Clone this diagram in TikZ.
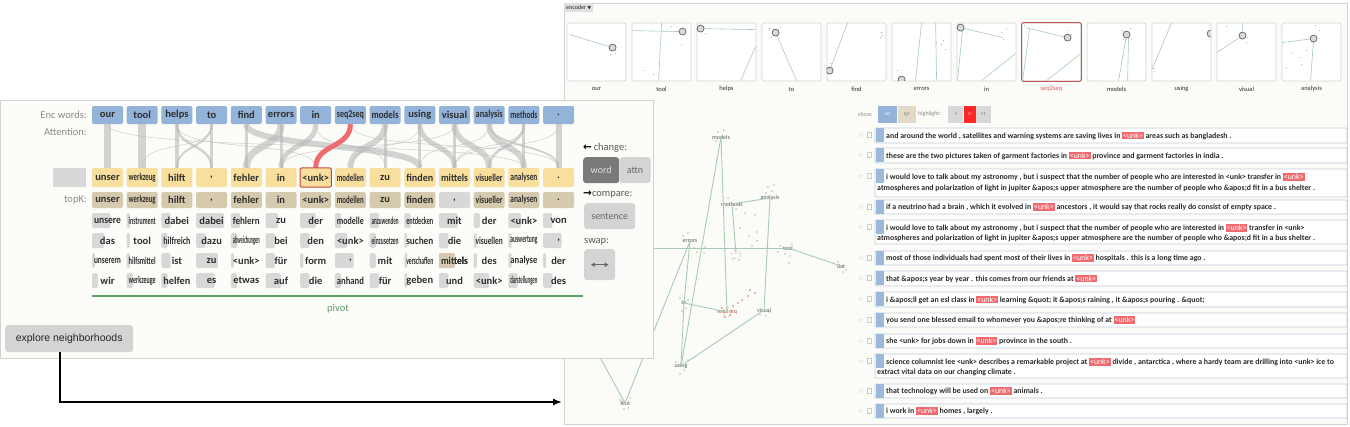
\documentclass[tikz,border=0pt]{standalone}
\usepackage{fontspec}
\setmainfont{Carlito}
\newfontfamily\symfont{DejaVu Sans}
\newfontfamily\btnfont{Liberation Sans}
\usepackage{graphicx}
\usetikzlibrary{arrows.meta,positioning,calc}

\definecolor{encblue}{HTML}{93B3D9}
\definecolor{decyellow}{HTML}{F8DF9E}
\definecolor{topkbeige}{HTML}{D6CAAE}
\definecolor{cellgray}{HTML}{D8D8D8}
\definecolor{ribbon}{HTML}{B8B8B8}
\definecolor{unkred}{HTML}{EF6B70}
\definecolor{unkborder}{HTML}{C8443C}
\definecolor{pivotgreen}{HTML}{5E9E68}
\definecolor{leftbg}{HTML}{FCFCF9}
\definecolor{rightbg}{HTML}{FBFBF7}
\definecolor{panelline}{HTML}{D2D2D2}
\definecolor{wordtext}{HTML}{2E2E2E}
\definecolor{lbltext}{HTML}{8A8A8A}
\definecolor{btngray}{HTML}{D4D4D4}
\definecolor{btndark}{HTML}{7A7A7A}
\definecolor{scgreen}{HTML}{A8CCB0}
\definecolor{sctext}{HTML}{5A5A5A}
\definecolor{rowline}{HTML}{C3CEDB}
\definecolor{tabblue}{HTML}{9CB8DA}
\definecolor{senttext}{HTML}{2A2A2A}
\definecolor{thumbline}{HTML}{D6D6D6}

\tikzstyle{encbox} = [fill=encblue, rounded corners=2pt, minimum width=31pt, minimum height=18pt, inner sep=0pt, text=wordtext, font=\bfseries\fontsize{10.5}{10.5}\selectfont]
\tikzstyle{decbox} = [encbox, fill=decyellow, minimum height=19pt]
\tikzstyle{topkbox} = [encbox, minimum height=16pt]
\tikzstyle{cand} = [inner sep=0pt, text=wordtext, font=\bfseries\fontsize{10.5}{10.5}\selectfont]
\tikzstyle{lbl} = [inner sep=0pt, text=lbltext, font=\fontsize{10.5}{10.5}\selectfont]
\tikzstyle{attn} = [draw=ribbon, opacity=0.6]
\tikzstyle{btn} = [fill=btngray, rounded corners=3pt, inner sep=0pt, text=gray!80!black, font=\fontsize{10}{10}\selectfont]
\tikzstyle{thumb} = [draw=thumbline, fill=white, rounded corners=1.5pt, minimum width=59pt, minimum height=58pt, inner sep=0pt, line width=0.8pt]
\tikzstyle{tline} = [draw=scgreen, line width=0.6pt]
\tikzstyle{tcirc} = [draw=gray!75!black, fill=gray!30, line width=0.7pt]
\tikzstyle{sclabel} = [inner sep=0pt, text=sctext, font=\fontsize{6}{6}\selectfont]
\tikzstyle{scedge} = [draw=scgreen, line width=0.9pt]
\tikzstyle{sent} = [anchor=west, inner sep=0pt, text=senttext, font=\bfseries\fontsize{7.85}{7.85}\selectfont]
\tikzstyle{rowbox} = [draw=rowline, fill=white, line width=0.8pt, rounded corners=1pt]
\tikzstyle{staric} = [inner sep=0pt, text=gray!50, font=\symfont\fontsize{6.5}{6.5}\selectfont]
\tikzset{>=latex}

% squeeze long words into a cell
\newsavebox\wbox
\newcommand\fitw[1]{\sbox\wbox{#1}\ifdim\wd\wbox>27pt\resizebox{27pt}{\height}{\usebox\wbox}\else\usebox\wbox\fi}
\newcommand\unk{{\setlength\fboxsep{1pt}\colorbox{unkred}{\textcolor{white}{\mdseries<unk>}}}}
\newcommand\thumbin[2]{\begin{scope}[shift={(th#1.north west)}]\clip (0,0) rectangle (59,58); #2\end{scope}}
\newcommand\srow[3]{%
  \draw[rowbox] (875,#2) rectangle (1347,#3);
  \fill[tabblue] (876,#2) rectangle (884,{#2+14});
  \node[staric] (star#1) at (861,{#2+7}) {☆};
  \draw[gray!40, line width=0.5pt] (867,{#2+4.5}) rectangle (871,{#2+9.5});
}

\begin{document}
\begin{tikzpicture}[x=1pt, y=-1pt]
  \useasboundingbox[fill=white] (0,0) rectangle (1350,426);

  % right panel
  \draw[panelline, fill=rightbg, line width=0.8pt] (564,3) rectangle (1347,424);
  \node[fill=gray!25, inner sep=2pt, anchor=north west, text=gray!30!black, font=\fontsize{6}{6}\selectfont] (encsel) at (564,3) {encoder {\symfont\fontsize{4.5}{4.5}\selectfont ▼}};

  \foreach \w [count=\i from 0] in {our,tool,helps,to,find,errors,in,seq2seq,models,using,visual,analysis}{
    \node[thumb] (th\i) at ({596.5+65*\i},52) {};
    \node[sclabel, text=wordtext, font=\fontsize{6.5}{6.5}\selectfont] (tl\i) at ({596.5+65*\i},89) {\w};
  }
  \draw[unkred!80!black, line width=0.9pt, rounded corners=1.5pt] (th7.south west) rectangle (th7.north east);
  \node[sclabel, fill=rightbg, text=unkred!90!black, font=\fontsize{6.5}{6.5}\selectfont] at (tl7) {seq2seq};

  \thumbin{0}{\draw[tline] (3,12) -- (46,25); \draw[tcirc] (46,25) circle (3.5);
    \foreach \p in {(44,32),(49,31)} \fill[gray!60] \p circle (0.6);}
  \thumbin{1}{\draw[tline] (0,8) -- (51,9); \draw[tline] (30,0) -- (27,58); \draw[tcirc] (51,9) circle (3.5);
    \foreach \p in {(40,4),(50,22),(12,48),(22,52)} \fill[gray!60] \p circle (0.6);}
  \thumbin{2}{\draw[tline] (4,6) -- (59,7); \draw[tline] (44,58) -- (59,24); \draw[tcirc] (4,6) circle (3.5);
    \foreach \p in {(9,11)} \fill[gray!60] \p circle (0.6);}
  \thumbin{3}{\draw[tline] (14,10) -- (35,58); \draw[tcirc] (14,10) circle (3.5);
    \foreach \p in {(8,6),(10,15),(19,5)} \fill[gray!60] \p circle (0.6);}
  \thumbin{4}{\draw[tline] (3,48) -- (21,0); \draw[tcirc] (3,48) circle (3.5);
    \foreach \p in {(55,10),(56,13),(54,15),(4,41)} \fill[scgreen!70!gray] \p circle (0.7);}
  \thumbin{5}{\draw[tline] (24,58) -- (30,0); \draw[tline] (44,0) -- (45,58); \draw[tcirc] (10,57) circle (3.5);
    \foreach \p in {(52,18),(50,22),(54,27),(45,20),(6,48)} \fill[scgreen!70!gray] \p circle (0.7);}
  \thumbin{6}{\draw[tline] (4,5) -- (46,15); \draw[tline] (1,58) -- (6,6); \draw[tline] (25,58) -- (59,31); \draw[tcirc] (4,5) circle (3.5);
    \foreach \p in {(45,10),(47,17),(50,6)} \fill[gray!60] \p circle (0.6);}
  \thumbin{7}{\draw[tline] (4,5) -- (46,15); \draw[tline] (1,58) -- (8,6); \draw[tline] (25,58) -- (59,31); \draw[tcirc] (46,15) circle (3.5);
    \foreach \p in {(3,3),(46,8),(50,12)} \fill[gray!60] \p circle (0.6);}
  \thumbin{8}{\draw[tline] (40,12) -- (32,58); \draw[tline] (42,12) -- (41,58); \draw[tcirc] (40,12) circle (3.5);
    \foreach \p in {(36,8),(44,6),(37,17),(45,16)} \fill[gray!60] \p circle (0.6);}
  \thumbin{9}{\draw[tline] (0,48) -- (20,0); \draw[tcirc] (59,11) circle (3.5);
    \foreach \p in {(3,46),(3,49)} \fill[gray!60] \p circle (0.6);}
  \thumbin{10}{\draw[tline] (0,30) -- (26,13) -- (26,0); \draw[tcirc] (26,13) circle (3.5);
    \foreach \p in {(31,15),(30,20),(10,4)} \fill[gray!60] \p circle (0.6);}
  \thumbin{11}{\draw[tline] (0,20) -- (32,16) -- (29,58); \draw[tcirc] (32,16) circle (3.5);
    \foreach \p in {(34,3),(38,8),(10,30),(18,35),(25,28),(20,42),(5,45)} \fill[gray!60] \p circle (0.6);}

  % neighbourhood scatter
  \coordinate (hidA) at (600,248);
  \coordinate (hidB) at (585,330);
  \foreach \p in {(718,132),(724,130),(716,141),(768,187),(772,191),(766,193),(774,185),(745,213),(755,215),(757,232),(740,228),(749,236),(757,241),(752,246),
    (683,236),(688,233),(694,248),(697,252),(704,253),(705,247),(780,246),(778,252),(785,254),(790,256),(792,244),(789,263),(838,262),(843,272),(846,270),
    (680,298),(686,308),(682,311),(688,300),(760,315),(766,316),(770,312),(676,362),(684,370),(680,374),(688,360),(620,400),(628,408),(624,409),(630,398),
    (728,198),(736,209),(739,260),(733,259)}
    \fill[gray!55] \p circle (0.8);
  \foreach \p in {(722,308),(730,315),(725,317),(733,306),(738,303),(742,300),(748,296),(750,290),(755,293)}
    \fill[unkred!60!gray] \p circle (0.8);
  \node[sclabel] (sc-models) at (721,137) {models};
  \node[sclabel] (sc-methods) at (732,204) {methods};
  \node[sclabel] (sc-analysis) at (770,198) {analysis};
  \node[sclabel] (sc-errors) at (690,241) {errors};
  \node[draw=unkred!60, dashed, circle, minimum size=9pt, inner sep=0pt] (sc-unk) at (736,254) {};
  \node[sclabel] (sc-tool) at (788,248) {tool};
  \node[sclabel] (sc-dat) at (841,266) {dat};
  \node[sclabel] (sc-to) at (684,303) {to};
  \node[draw=unkred!70, dashed, circle, minimum size=10pt, inner sep=0pt] (sc-seqc) at (727,312) {};
  \node[sclabel, text=unkred!80!black] (sc-seq) at (727,312) {seq2seq};
  \node[sclabel] (sc-visual) at (764,310) {visual};
  \node[sclabel] (sc-using) at (681,366) {using};
  \node[sclabel] (sc-find) at (625,403) {find};
  \draw[scedge] (sc-models.center) -- (sc-seq.center);
  \draw[scedge] (sc-models.center) -- (sc-using.center);
  \draw[scedge] (sc-methods.center) -- (sc-analysis.center);
  \draw[scedge] (sc-methods.center) -- (sc-unk.center);
  \draw[scedge] (sc-analysis.center) -- (sc-visual.center);
  \draw[scedge] (sc-errors.center) -- (sc-to.center);
  \draw[scedge] (sc-to.center) -- (sc-using.center);
  \draw[scedge] (sc-find.center) -- (sc-errors.center);
  \draw[scedge] (sc-to.center) -- (sc-seq.center);
  \draw[scedge] (sc-using.center) -- (sc-visual.center);
  \draw[scedge] (sc-tool.center) -- (sc-dat.center);
  \draw[scedge] (hidA) -- (sc-tool.center);
  \draw[scedge] (hidB) -- (sc-find.center);

  % sentence list
  \node[sclabel, text=lbltext, font=\fontsize{6}{6}\selectfont, anchor=west] (show) at (858,114) {show:};
  \node[fill=encblue, minimum width=19pt, minimum height=17pt, inner sep=0pt, text=white, font=\fontsize{5}{5}\selectfont, anchor=west] (src) at (878,114) {src};
  \node[fill=topkbeige!70, minimum width=18pt, minimum height=17pt, inner sep=0pt, text=gray, font=\fontsize{5}{5}\selectfont, right=0pt of src] (tgt) {tgt};
  \node[sclabel, text=lbltext, anchor=west] (hl) at (918,114) {highlight:};
  \node[fill=cellgray, minimum width=15pt, minimum height=17pt, inner sep=0pt, text=gray, font=\fontsize{5}{5}\selectfont, anchor=west] (hm) at (948,114) {-1};
  \node[fill=red!85!white, minimum width=12pt, minimum height=17pt, inner sep=0pt, text=white!80!red, font=\fontsize{5}{5}\selectfont, right=0pt of hm] (h0) {0};
  \node[fill=cellgray, minimum width=15pt, minimum height=17pt, inner sep=0pt, text=gray, font=\fontsize{5}{5}\selectfont, right=0pt of h0] (hp) {+1};

  \srow{1}{128}{143}
  \node[sent] (s1) at (886,135.5) {and around the world , satellites and warning systems are saving lives in \unk{} areas such as bangladesh .};
  \srow{2}{148}{163}
  \node[sent] (s2) at (886,155.5) {these are the two pictures taken of garment factories in \unk{} province and garment factories in india .};
  \srow{3}{169}{197}
  \node[sent] (s3a) at (886,177) {i would love to talk about my astronomy , but i suspect that the number of people who are interested in <unk> transfer in \unk};
  \node[sent] (s3b) at (877,188) {atmospheres and polarization of light in jupiter \&apos;s upper atmosphere are the number of people who \&apos;d fit in a bus shelter .};
  \srow{4}{200}{214}
  \node[sent] (s4) at (886,207) {if a neutrino had a brain , which it evolved in \unk{} ancestors , it would say that rocks really do consist of empty space .};
  \srow{5}{220}{244}
  \node[sent] (s5a) at (886,228) {i would love to talk about my astronomy , but i suspect that the number of people who are interested in \unk{} transfer in <unk>};
  \node[sent] (s5b) at (877,238.5) {atmospheres and polarization of light in jupiter \&apos;s upper atmosphere are the number of people who \&apos;d fit in a bus shelter .};
  \srow{6}{251}{265}
  \node[sent] (s6) at (886,258) {most of those individuals had spent most of their lives in \unk{} hospitals . this is a long time ago .};
  \srow{7}{271}{286}
  \node[sent] (s7) at (886,278.5) {that \&apos;s year by year . this comes from our friends at \unk};
  \srow{8}{292}{307}
  \node[sent] (s8) at (886,299.5) {i \&apos;ll get an esl class in \unk{} learning \&quot; it \&apos;s raining , it \&apos;s pouring . \&quot;};
  \srow{9}{313}{327}
  \node[sent] (s9) at (886,320) {you send one blessed email to whomever you \&apos;re thinking of at \unk};
  \srow{10}{334}{348}
  \node[sent] (s10) at (886,341) {she <unk> for jobs down in \unk{} province in the south .};
  \srow{11}{354}{378}
  \node[sent] (s11a) at (886,362) {science columnist lee <unk> describes a remarkable project at \unk{} divide , antarctica , where a hardy team are drilling into <unk> ice to};
  \node[sent] (s11b) at (877,372) {extract vital data on our changing climate .};
  \srow{12}{384}{398}
  \node[sent] (s12) at (886,391) {that technology will be used on \unk{} animals .};
  \srow{13}{404}{418}
  \node[sent] (s13) at (886,411) {i work in \unk{} homes , largely .};

  % left panel
  \draw[panelline, fill=leftbg, line width=0.8pt] (0,100) rectangle (653,358);
  \node[lbl, anchor=east] (encl) at (87,115) {Enc words:};
  \node[lbl, anchor=east] (attl) at (87,132) {Attention:};
  \node[lbl, anchor=east] (topkl) at (87,200) {topK:};

  \foreach \w [count=\i from 0] in {our,tool,helps,to,find,errors,in,seq2seq,models,using,visual,analysis,methods,.}
    \node[encbox] (e\i) at ({107.5+34.7*\i},115) {\fitw{\w}};
  \node[fill=cellgray, minimum width=33pt, minimum height=19pt, inner sep=0pt] (dstart) at (69,177.5) {};
  \foreach \w [count=\i from 0] in {unser,werkzeug,hilft,{,},fehler,in,<unk>,modellen,zu,finden,mittels,visueller,analysen,.}
    \node[decbox] (d\i) at ({107.5+34.7*\i},177.5) {\fitw{\w}};

  % attention ribbons
  \foreach \s/\t/\lw in {0/0/7, 1/1/8, 2/2/4, 2/3/2.5, 3/3/3, 3/2/2, 4/9/6, 5/4/7, 6/5/5, 5/5/3, 8/7/6, 8/8/3, 9/10/5, 10/11/6, 11/12/6, 12/12/3, 12/11/2.5, 13/13/6, 9/9/3, 4/4/2.5, 10/10/2.5, 11/13/2}
    \draw[attn, line width=\lw pt] (e\s.south) .. controls +(0,24) and +(0,-24) .. (d\t.north);
  \foreach \s/\t in {0/12, 2/6, 10/5, 12/10, 7/13, 9/7, 3/1, 11/9, 13/10, 6/8}
    \draw[attn, line width=0.6pt] (e\s.south) .. controls +(0,30) and +(0,-30) .. (d\t.north);
  \draw[unkred, line width=5pt] (e7.south) .. controls +(0,24) and +(0,-24) .. (d6.north);
  \draw[unkborder, line width=1pt, rounded corners=2pt] (d6.south west) rectangle (d6.north east);

  \foreach \w/\c [count=\i from 0] in {unser/topkbeige,werkzeug/topkbeige,hilft/topkbeige,{,}/topkbeige,fehler/topkbeige,in/topkbeige,<unk>/topkbeige,modellen/topkbeige,zu/topkbeige,finden/topkbeige,{,}/cellgray,visueller/topkbeige,analysen/topkbeige,./topkbeige}
    \node[topkbox, fill=\c] (k\i) at ({107.5+34.7*\i},200) {\fitw{\w}};

  \foreach \w/\f [count=\i from 0] in {unsere/.6,instrument/.1,dabei/.3,dabei/.9,fehlern/.3,zu/.4,der/.5,modelle/.2,anzuwenden/.3,entdecken/.2,mit/.6,der/.2,<unk>/.4,von/.3}{
    \fill[cellgray, rounded corners=1.5pt] ({92+34.7*\i},213) rectangle ++({31*\f},15);
    \node[cand] (ca\i) at ({107.5+34.7*\i},220.5) {\fitw{\w}};
  }
  \foreach \w/\f [count=\i from 0] in {das/.4,tool/.1,hilfreich/.2,dazu/.3,abweichungen/.2,bei/.3,den/.3,<unk>/.4,einzusetzen/.2,suchen/.1,die/.3,visuellen/.1,auswertung/.1,{,}/.6}{
    \fill[cellgray, rounded corners=1.5pt] ({92+34.7*\i},233) rectangle ++({31*\f},15);
    \node[cand] (cb\i) at ({107.5+34.7*\i},240.5) {\fitw{\w}};
  }
  \foreach \w/\f [count=\i from 0] in {unserem/.1,hilfsmittel/.1,ist/.3,zu/.7,<unk>/.1,für/.3,form/.1,{,}/.6,mit/.2,verschaffen/.1,mittels/.02,des/.1,analyse/.1,der/.1}{
    \fill[cellgray, rounded corners=1.5pt] ({92+34.7*\i},253) rectangle ++({31*\f},15);
    \node[cand] (cc\i) at ({107.5+34.7*\i},260.5) {\fitw{\w}};
  }
  \fill[topkbeige, rounded corners=1.5pt] (439,253) rectangle ++(16,15);
  \node[cand] (cc10b) at (cc10) {\fitw{mittels}};
  \foreach \w/\f [count=\i from 0] in {wir/.2,werkzeuge/.2,helfen/.2,es/.6,etwas/.2,auf/.5,die/.3,anhand/.2,für/.3,geben/.1,und/.3,<unk>/.5,darstellungen/.3,des/.3}{
    \fill[cellgray, rounded corners=1.5pt] ({92+34.7*\i},273) rectangle ++({31*\f},15);
    \node[cand] (cd\i) at ({107.5+34.7*\i},280.5) {\fitw{\w}};
  }

  \draw[pivotgreen, line width=2pt] (92,296) -- (583,296);
  \node[lbl, text=pivotgreen] (pivot) at (338,309) {pivot};

  % controls
  \node[lbl, text=gray!70!black, anchor=west] (chg) at (583,148) {{\symfont\bfseries\color{black}←}\,change:};
  \node[btn, fill=btndark, text=white!75!gray, minimum width=36pt, minimum height=26pt, anchor=north west] (word) at (583,157) {word};
  \node[btn, minimum width=31pt, minimum height=26pt, right=0pt of word] (attnbtn) {attn};
  \node[lbl, text=gray!70!black, anchor=west] (cmp) at (583,195) {{\symfont\bfseries\color{black}→}compare:};
  \node[btn, minimum width=51pt, minimum height=26pt, anchor=north west] (sentbtn) at (584,203) {sentence};
  \node[lbl, text=gray!70!black, anchor=west] (swp) at (584,242) {swap:};
  \node[btn, minimum width=31pt, minimum height=31pt, anchor=north west] (swapbtn) at (584,249) {};
  \draw[{Latex[length=4pt,width=5pt]}-{Latex[length=4pt,width=5pt]}, gray!80!black, line width=1.4pt] ([xshift=-9pt]swapbtn.center) -- ([xshift=9pt]swapbtn.center);

  \node[btn, text=black!85, font=\btnfont\fontsize{10.5}{10.5}\selectfont, minimum width=128pt, minimum height=27pt, anchor=north west] (explore) at (5,325) {explore neighborhoods};
  \coordinate (nbhd) at (562,402);
  \draw[-{Latex[length=9pt,width=7pt]}, line width=1.5pt] ([xshift=55pt]explore.south west) |- (nbhd);
\end{tikzpicture}
\end{document}
